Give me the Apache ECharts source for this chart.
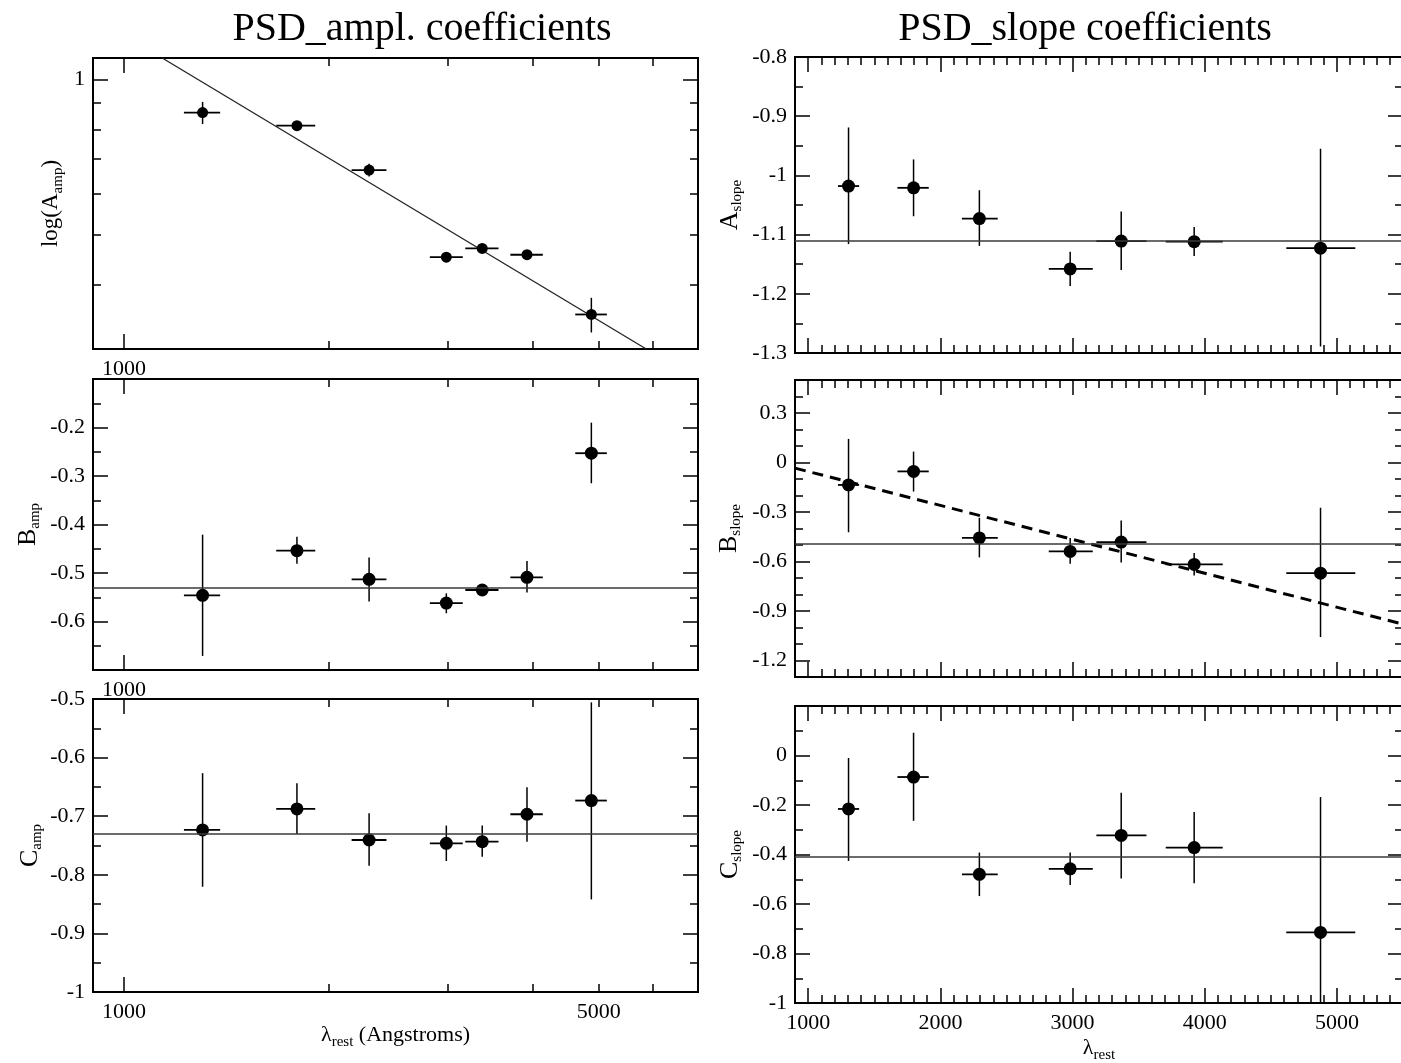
<!DOCTYPE html>
<html><head><meta charset="utf-8">
<script src="https://cdn.jsdelivr.net/npm/echarts@6/dist/echarts.min.js"></script>
<style>html,body{margin:0;padding:0;background:#fff}#c{width:1401px;height:1063px}</style>
</head><body><div id="c"></div>
<script>
// ---------------- data ----------------
const lambda   = [1305, 1797, 2295, 2982, 3368, 3920, 4876];
const lambdaLo = [1225, 1675, 2163, 2820, 3180, 3705, 4617];
const lambdaHi = [1385, 1912, 2434, 3153, 3559, 4136, 5139];

const aAmp   = [0.862, 0.813, 0.667, 0.452, 0.470, 0.457, 0.350];
const aAmpLo = [0.819, 0.801, 0.648, 0.442, 0.461, 0.448, 0.323];
const aAmpHi = [0.904, 0.826, 0.686, 0.461, 0.480, 0.466, 0.377];
const aAmpFit = [[1138, 1.1], [5873, 0.3]];

const bAmp   = [-0.546, -0.454, -0.513, -0.562, -0.535, -0.509, -0.253];
const bAmpLo = [-0.671, -0.481, -0.559, -0.583, -0.545, -0.540, -0.315];
const bAmpHi = [-0.421, -0.425, -0.468, -0.542, -0.524, -0.475, -0.190];
const bAmpMean = -0.529;

const cAmp   = [-0.7235, -0.6876, -0.7406, -0.7463, -0.7434, -0.6967, -0.6733];
const cAmpLo = [-0.8204, -0.7303, -0.7845, -0.7765, -0.7690, -0.7434, -0.8420];
const cAmpHi = [-0.6266, -0.6437, -0.6950, -0.7160, -0.7160, -0.6505, -0.5057];
const cAmpMean = -0.730;

const aSlope   = [-1.018, -1.021, -1.073, -1.158, -1.111, -1.112, -1.123];
const aSlopeLo = [-1.116, -1.069, -1.119, -1.187, -1.160, -1.136, -1.289];
const aSlopeHi = [-0.919, -0.973, -1.025, -1.129, -1.061, -1.087, -0.955];
const aSlopeMean = -1.110;

const bSlope   = [-0.136, -0.054, -0.457, -0.539, -0.482, -0.618, -0.671];
const bSlopeLo = [-0.423, -0.176, -0.575, -0.614, -0.606, -0.685, -1.058];
const bSlopeHi = [ 0.143,  0.066, -0.335, -0.457, -0.351, -0.549, -0.274];
const bSlopeMean = -0.492;
const bSlopeFit = [[900, -0.034], [5500, -0.98]];

const cSlope   = [-0.216, -0.087, -0.480, -0.458, -0.323, -0.372, -0.715];
const cSlopeLo = [-0.426, -0.264, -0.568, -0.523, -0.497, -0.516, -1.050];
const cSlopeHi = [-0.010,  0.092, -0.392, -0.392, -0.151, -0.228, -0.168];
const cSlopeMean = -0.408;

// ---------------- ticks / labels ----------------
const xLogMajor = [1000];
const xLogMinor = [2000, 3000, 4000, 5000, 6000];
const xLabelsTL = [1000];
const xLabelsML = [1000];
const xLabelsBL = [1000, 5000];
const xLinMajor = [1000, 2000, 3000, 4000, 5000];
const xLabelsBR = [1000, 2000, 3000, 4000, 5000];

const yMajorTL = [1];
const yMinorTL = [0.4, 0.5, 0.6, 0.7, 0.8, 0.9];
const yLabelsTL = [1];
const yMajorML = [-0.7, -0.6, -0.5, -0.4, -0.3, -0.2, -0.1];
const yLabelsML = [-0.6, -0.5, -0.4, -0.3, -0.2];
const yMajorBL = [-1, -0.9, -0.8, -0.7, -0.6, -0.5];
const yLabelsBL = [-1, -0.9, -0.8, -0.7, -0.6, -0.5];
const yMajorTR = [-1.3, -1.2, -1.1, -1, -0.9, -0.8];
const yLabelsTR = [-1.3, -1.2, -1.1, -1, -0.9, -0.8];
const yMajorMR = [-1.2, -0.9, -0.6, -0.3, 0, 0.3];
const yLabelsMR = [-1.2, -0.9, -0.6, -0.3, 0, 0.3];
const yMajorBR = [-1, -0.8, -0.6, -0.4, -0.2, 0];
const yLabelsBR = [-1, -0.8, -0.6, -0.4, -0.2, 0];

const titles = ['PSD_ampl. coefficients', 'PSD_slope coefficients'];

// ---------------- layout ----------------
const FONT = 'Liberation Serif';
const grids = [
  {left: 93,  top: 58,  width: 605, height: 291},
  {left: 93,  top: 379, width: 605, height: 291},
  {left: 93,  top: 699, width: 605, height: 293},
  {left: 795, top: 57,  width: 608, height: 296},
  {left: 795, top: 380, width: 608, height: 297},
  {left: 795, top: 706, width: 608, height: 297}
];

const rich = {
  m: {fontFamily: FONT, fontSize: 26, lineHeight: 30, color: '#000'},
  ms: {fontFamily: FONT, fontSize: 23, lineHeight: 30, color: '#000'},
  s: {fontFamily: FONT, fontSize: 15, lineHeight: 15, verticalAlign: 'bottom', color: '#000'},
  xm: {fontFamily: FONT, fontSize: 22, lineHeight: 30, color: '#000'},
  xs: {fontFamily: FONT, fontSize: 15, lineHeight: 15, verticalAlign: 'bottom', color: '#000'}
};

const panels = [
  {x: {type: 'log', min: 900, max: 7000, major: xLogMajor, minor: xLogMinor, labels: xLabelsTL},
   y: {type: 'log', min: 0.3, max: 1.1, major: yMajorTL, minor: yMinorTL, labels: yLabelsTL},
   name: '{ms|log(A}{s|amp}{ms|)}', gap: 27, v: aAmp, lo: aAmpLo, hi: aAmpHi, fit: aAmpFit, size: 11},
  {x: {type: 'log', min: 900, max: 7000, major: xLogMajor, minor: xLogMinor, labels: xLabelsML},
   y: {type: 'value', min: -0.7, max: -0.1, major: yMajorML, minor: 0.05, labels: yLabelsML},
   name: '{m|B}{s|amp}', gap: 50, v: bAmp, lo: bAmpLo, hi: bAmpHi, mean: bAmpMean, size: 13},
  {x: {type: 'log', min: 900, max: 7000, major: xLogMajor, minor: xLogMinor, labels: xLabelsBL},
   y: {type: 'value', min: -1, max: -0.5, major: yMajorBL, minor: 0.05, labels: yLabelsBL},
   name: '{m|C}{s|amp}', gap: 48, v: cAmp, lo: cAmpLo, hi: cAmpHi, mean: cAmpMean, size: 13,
   xname: '{xm|λ}{xs|rest}{xm| (Angstroms)}', xgap: 24},
  {x: {type: 'value', min: 900, max: 5500, major: xLinMajor, minor: 100, labels: null},
   y: {type: 'value', min: -1.3, max: -0.8, major: yMajorTR, minor: 0.05, labels: yLabelsTR},
   name: '{m|A}{s|slope}', gap: 50, v: aSlope, lo: aSlopeLo, hi: aSlopeHi, mean: aSlopeMean, size: 13},
  {x: {type: 'value', min: 900, max: 5500, major: xLinMajor, minor: 100, labels: null},
   y: {type: 'value', min: -1.3, max: 0.5, major: yMajorMR, minor: 0.1, labels: yLabelsMR},
   name: '{m|B}{s|slope}', gap: 51, v: bSlope, lo: bSlopeLo, hi: bSlopeHi, mean: bSlopeMean, size: 13,
   fit: bSlopeFit, dashed: true},
  {x: {type: 'value', min: 900, max: 5500, major: xLinMajor, minor: 100, labels: xLabelsBR},
   y: {type: 'value', min: -1, max: 0.2, major: yMajorBR, minor: 0.1, labels: yLabelsBR},
   name: '{m|C}{s|slope}', gap: 50, v: cSlope, lo: cSlopeLo, hi: cSlopeHi, mean: cSlopeMean, size: 13,
   xname: '{xm|λ}{xs|rest}', xgap: 30}
];

const fmt = v => String(Math.round(v * 1000) / 1000);

function makeAxis(gi, pos, spec, ticks, len, labels, isX) {
  const a = {
    gridIndex: gi, type: spec.type, position: pos, min: spec.min, max: spec.max,
    axisLine: {show: false, onZero: false}, splitLine: {show: false},
    axisTick: {show: true, inside: true, length: len, lineStyle: {color: '#000', width: 1.5}},
    axisLabel: {show: false}
  };
  if (spec.type === 'log') a.logBase = 10;
  if (Array.isArray(ticks)) a.axisTick.customValues = ticks; else a.interval = ticks;
  if (labels) {
    a.axisLabel = {show: true, customValues: labels, formatter: fmt, fontFamily: FONT, fontSize: 22,
      color: '#000', margin: isX ? 9 : 8, showMinLabel: true, showMaxLabel: true};
  }
  return a;
}

const xAxis = [], yAxis = [], series = [];
panels.forEach((p, gi) => {
  const bx = makeAxis(gi, 'bottom', p.x, p.x.major, 15, p.x.labels, true);
  if (p.xname) {
    Object.assign(bx, {name: p.xname, nameLocation: 'middle', nameGap: p.xgap, nameTextStyle: {rich}});
  }
  xAxis.push(bx,
    makeAxis(gi, 'bottom', p.x, p.x.minor, 8, null, true),
    makeAxis(gi, 'top', p.x, p.x.major, 15, null, true),
    makeAxis(gi, 'top', p.x, p.x.minor, 8, null, true));
  const ly = makeAxis(gi, 'left', p.y, p.y.major, 15, p.y.labels, false);
  Object.assign(ly, {name: p.name, nameLocation: 'middle', nameRotate: 90, nameGap: p.gap, nameTextStyle: {rich}});
  yAxis.push(ly,
    makeAxis(gi, 'left', p.y, p.y.minor, 8, null, false),
    makeAxis(gi, 'right', p.y, p.y.major, 15, null, false),
    makeAxis(gi, 'right', p.y, p.y.minor, 8, null, false));
  const ai = gi * 4;
  const errData = lambda.map((x, i) => [x, p.v[i], lambdaLo[i], lambdaHi[i], p.lo[i], p.hi[i]]);
  const errSeries = {
    type: 'custom', xAxisIndex: ai, yAxisIndex: ai, data: errData, clip: true, z: 3,
    encode: {x: 0, y: 1},
    renderItem: (params, api) => {
      const x = api.value(0), y = api.value(1);
      const l = api.coord([api.value(2), y]);
      const r = api.coord([api.value(3), y]);
      const b = api.coord([x, api.value(4)]);
      const t = api.coord([x, api.value(5)]);
      return {type: 'group', children: [
        {type: 'line', shape: {x1: l[0], y1: l[1], x2: r[0], y2: r[1]}, style: {stroke: '#000', lineWidth: 1.8}},
        {type: 'line', shape: {x1: t[0], y1: t[1], x2: b[0], y2: b[1]}, style: {stroke: '#000', lineWidth: 1.5}}
      ]};
    }
  };
  if (p.mean !== undefined) {
    errSeries.markLine = {silent: true, symbol: 'none', label: {show: false}, animation: false,
      lineStyle: {color: '#3a3a3a', width: 1.6, type: 'solid'}, data: [{yAxis: p.mean}]};
  }
  series.push(errSeries);
  series.push({type: 'scatter', xAxisIndex: ai, yAxisIndex: ai, z: 4, symbol: 'circle', symbolSize: p.size,
    itemStyle: {color: '#000', opacity: 1}, data: lambda.map((x, i) => [x, p.v[i]])});
  if (p.fit) {
    series.push({type: 'line', xAxisIndex: ai, yAxisIndex: ai, z: 2, symbol: 'none', clip: true,
      lineStyle: p.dashed ? {color: '#000', width: 3, type: [11, 7]} : {color: '#222', width: 1.3},
      data: p.fit});
  }
});

const option = {
  animation: false,
  backgroundColor: '#fff',
  grid: grids.map(g => Object.assign({show: true, borderColor: '#000', borderWidth: 2,
    backgroundColor: 'transparent', containLabel: false, outerBoundsMode: 'none'}, g)),
  xAxis, yAxis, series,
  graphic: [
    {type: 'text', x: 422, y: 29, style: {text: titles[0], font: '40px "Liberation Serif"', fill: '#000', align: 'center', verticalAlign: 'middle'}},
    {type: 'text', x: 1085, y: 29, style: {text: titles[1], font: '40px "Liberation Serif"', fill: '#000', align: 'center', verticalAlign: 'middle'}}
  ]
};
const chart = echarts.init(document.getElementById('c'), null, {renderer: 'canvas'});
chart.setOption(option);
</script>
</body></html>
